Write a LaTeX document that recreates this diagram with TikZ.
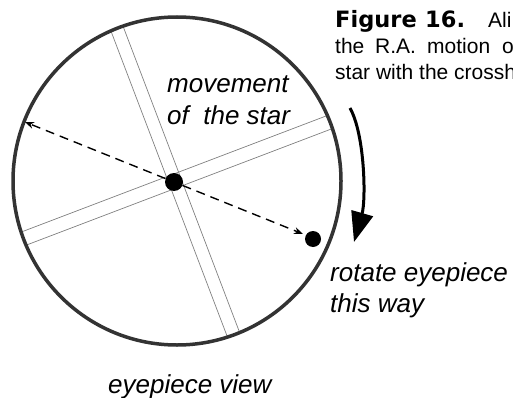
\documentclass[tikz,border=0pt]{standalone}
\usepackage{fontspec}
\setmainfont{Liberation Sans}
\newfontfamily\heavyfont{DejaVu Sans}
\usetikzlibrary{arrows.meta,calc}
\begin{document}
\begin{tikzpicture}[x=1pt,y=-1pt,
  lbl/.style={anchor=base west, inner sep=0pt, font=\fontsize{26}{30}\selectfont\itshape},
  captext/.style={anchor=base west, inner sep=0pt, font=\fontsize{21}{26}\selectfont},
  capbold/.style={anchor=base west, inner sep=0pt, font=\heavyfont\bfseries\fontsize{22.5}{26}\selectfont},
  hair/.style={draw=black!50, line width=0.7pt},
  dot/.style={circle, fill=black, inner sep=0pt},
  dasharrow/.style={dash pattern=on 9pt off 6pt, line width=1.4pt, -{Stealth[length=9pt,width=7pt]}},
  rotarrow/.style={line width=3pt, -{Triangle[length=30pt,width=22pt]}}]
\useasboundingbox (0,0) rectangle (513,398);
\coordinate (C) at (175,181);
\coordinate (O) at (177,181);
% crosshairs
\begin{scope}
\clip (O) circle [radius=163pt];
\draw[hair] ($(C)+(6.08,-2.31)+(-75,-197)$) -- ($(C)+(6.08,-2.31)+(75,197)$);
\draw[hair] ($(C)+(-6.08,2.31)+(-75,-197)$) -- ($(C)+(-6.08,2.31)+(75,197)$);
\draw[hair] ($(C)+(2.49,6.55)+(-197,75)$) -- ($(C)+(2.49,6.55)+(197,-75)$);
\draw[hair] ($(C)+(-2.49,-6.55)+(-197,75)$) -- ($(C)+(-2.49,-6.55)+(197,-75)$);
\end{scope}
% field of view
\draw[line width=3.5pt, draw=black!80] (O) circle [radius=164pt];
% stars
\node[dot, minimum size=18pt] (star) at (174,182) {};
\node[dot, minimum size=16pt] (star2) at (313,239) {};
\coordinate (ltip) at (25,122);
\coordinate (rtip) at (303,234);
\draw[dasharrow] (star) -- (ltip);
\draw[dasharrow] (star) -- (rtip);
% rotation arrow
\coordinate (cs) at (350,108);
\coordinate (ce) at (354,242);
\draw[rotarrow] (cs) .. controls (365,135) and (366,200) .. (ce);
% labels
\node[lbl] (mv) at (167,93) {movement};
\node[lbl] (ots) at (167,125) {of\ \ the star};
\node[lbl] (rot) at (330,281) {rotate eyepiece};
\node[lbl] (way) at (330,312) {this way};
\node[lbl] (ev) at (108,393) {eyepiece view};
% caption (cut off at the right edge, as in the reference)
\begin{scope}
\clip (0,0) rectangle (513,398);
\node[capbold] (fig) at (335,28) {Figure};
\node[capbold] (num) at (425,28) {16.};
\node[captext] (ali) at (488,28) {Ali};
\node[captext] (the) at (335,54) {the};
\node[captext] (ra) at (375,54) {R.A.};
\node[captext] (motion) at (427,54) {motion};
\node[captext] (o) at (502,54) {o};
\node[captext] (l3) at (335,80) {star with the crossh};
\end{scope}
\end{tikzpicture}
\end{document}
